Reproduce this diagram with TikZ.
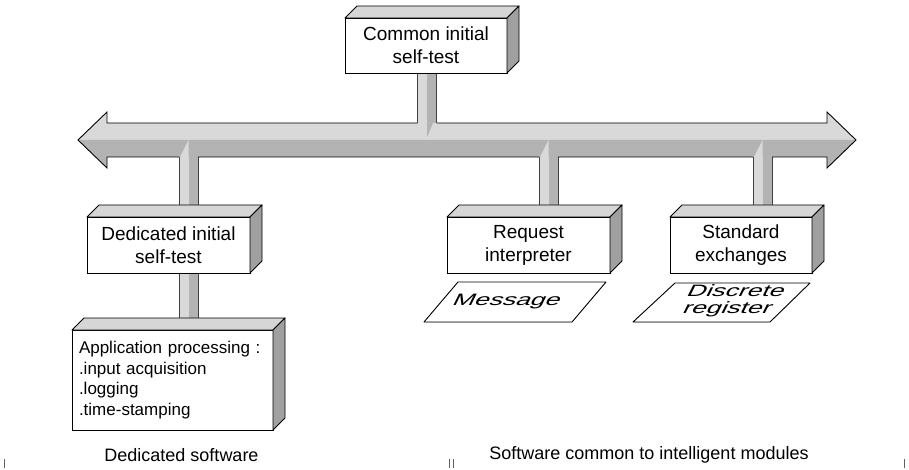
\documentclass[tikz,border=0pt]{standalone}
\usepackage{fontspec}
\setmainfont{Liberation Sans}
\newfontfamily\widefont[FakeStretch=1.6]{Liberation Sans}
\usetikzlibrary{calc,backgrounds}

\definecolor{facetop}{HTML}{D6D6D6}
\definecolor{faceside}{HTML}{A0A0A0}
\definecolor{buslight}{HTML}{D9D9D9}
\definecolor{busdark}{HTML}{B3B3B3}
\definecolor{shade}{HTML}{B5B5B5}
\definecolor{tickgray}{HTML}{606060}

\tikzset{
  box/.style={draw, fill=white, line width=0.9pt, inner sep=0pt, outer sep=0pt,
    align=center, minimum height=56pt, font=\fontsize{19}{23}\selectfont},
  face/.style={draw, line width=0.9pt, line join=round},
  outline/.style={draw, line width=0.9pt},
  stemedge/.style={draw=black!75, line width=0.7pt},
  card/.style={draw, fill=white, line width=0.9pt, line join=round},
  cardtext/.style={font=\widefont\fontsize{16.5}{17}\selectfont, xslant=0.5,
    transform shape, align=center, inner sep=0pt},
  caption/.style={font=\fontsize{18}{22}\selectfont, inner sep=0pt},
  tick/.style={draw=tickgray, line width=1pt},
}

% top and right faces of a box whose front face is node #1
\newcommand\boxfaces[1]{%
  \path[face, fill=facetop] (#1.north west) -- ++(12,-12)
    -- ($(#1.north east)+(12,-12)$) -- (#1.north east) -- cycle;
  \path[face, fill=faceside] (#1.north east) -- ($(#1.north east)+(12,-12)$)
    -- ($(#1.south east)+(12,-12)$) -- (#1.south east) -- cycle;
}
% vertical two-tone stem centred on #1, from the level of #2 to the level of #3
\newcommand\vstem[3]{%
  \fill[buslight] ($(#1 |- #2)+(-9.5,0)$) rectangle (#1 |- #3);
  \fill[busdark] (#1 |- #2) rectangle ($(#1 |- #3)+(9.5,0)$);
  \draw[stemedge] ($(#1 |- #2)+(-9.5,0)$) -- ($(#1 |- #3)+(-9.5,0)$)
                  ($(#1 |- #2)+(9.5,0)$) -- ($(#1 |- #3)+(9.5,0)$);
}

\begin{document}
\begin{tikzpicture}[x=1pt, y=-1pt]
\useasboundingbox (0,0) rectangle (909,470);

% boxes
\node[box, minimum width=162pt, minimum height=55pt] (com) at (426,45.5) {Common initial\\self-test};
\boxfaces{com}
\node[box, minimum width=163pt] (ded) at (168.5,245) {Dedicated initial\\self-test};
\boxfaces{ded}
\node[box, minimum width=163pt] (req) at (528.5,245) {Request\\interpreter};
\boxfaces{req}
\node[box, minimum width=142pt] (std) at (741,245) {Standard\\exchanges};
\boxfaces{std}
\node[box, font=\fontsize{17}{20.5}\selectfont, align=left, text width=187pt,
      inner xsep=7pt, minimum height=100pt] (app) at (172.5,380)
  {Application processing :\\.input acquisition\\.logging\\.time-stamping};
\boxfaces{app}

% stem centres and bus levels
\coordinate (comS) at ($(com.south)+(1,0)$);
\coordinate (dedS) at ($(ded.north)+(20,0)$);
\coordinate (reqS) at ($(req.north)+(20,0)$);
\coordinate (stdS) at ($(std.north)+(21.5,0)$);
\coordinate (busT) at (0,123);
\coordinate (busB) at (0,157);
\coordinate (busL) at (78,140);
\coordinate (busR) at (856,140);

\begin{pgfonlayer}{background}
  % stems
  \vstem{comS}{com.south}{busT}
  \vstem{dedS}{busB}{ded.north}
  \vstem{reqS}{busB}{req.north}
  \vstem{stdS}{busB}{std.north}
  \vstem{dedS}{ded.south}{app.north}
  % bus body with arrow heads at both ends
  \fill[buslight] (107,123) -- (107,112) -- (busL) -- (busR) -- (827,112) -- (827,123) -- cycle;
  \fill[busdark] (busL) -- (107,168) -- (107,157) -- (827,157) -- (827,168) -- (busR) -- cycle;
  % joints
  \fill[busdark] (comS |- busT) -- ($(comS |- busT)+(6,0)$) -- ($(comS |- busT)+(0,14)$) -- cycle;
  \foreach \s in {dedS,reqS,stdS}
    \fill[buslight] (\s |- busB) -- ($(\s |- busB)+(-8.5,0)$) -- ($(\s |- busB)+(0,-17)$) -- cycle;
  % bus outline, open where the stems join
  \draw[outline] ($(comS |- busT)+(-9.5,0)$) -- (107,123) -- (107,112) -- (busL)
      -- (107,168) -- (107,157) -- ($(dedS |- busB)+(-9.5,0)$)
    ($(dedS |- busB)+(9.5,0)$) -- ($(reqS |- busB)+(-9.5,0)$)
    ($(reqS |- busB)+(9.5,0)$) -- ($(stdS |- busB)+(-9.5,0)$)
    ($(stdS |- busB)+(9.5,0)$) -- (827,157) -- (827,168) -- (busR)
      -- (827,112) -- (827,123) -- ($(comS |- busT)+(9.5,0)$);
\end{pgfonlayer}

% data cards
\coordinate (msgC) at (515,302);
\fill[shade, shift={(4,5)}] ($(msgC)+(-91,20)$) -- ($(msgC)+(57,20)$) -- ($(msgC)+(91,-20)$) -- ($(msgC)+(-57,-20)$) -- cycle;
\path[card] ($(msgC)+(-91,20)$) -- ($(msgC)+(57,20)$) -- ($(msgC)+(91,-20)$) -- ($(msgC)+(-57,-20)$) -- cycle;
\begin{scope}[shift={(507,302)}]
  \node[cardtext] (msg) at (0,0) {Message};
\end{scope}

\coordinate (disC) at (721.5,302.5);
\fill[shade, shift={(4,5)}] ($(disC)+(-88.5,19.5)$) -- ($(disC)+(48.5,19.5)$) -- ($(disC)+(88.5,-19.5)$) -- ($(disC)+(-46.5,-19.5)$) -- cycle;
\path[card] ($(disC)+(-88.5,19.5)$) -- ($(disC)+(48.5,19.5)$) -- ($(disC)+(88.5,-19.5)$) -- ($(disC)+(-46.5,-19.5)$) -- cycle;
\begin{scope}[shift={(732,301)}]
  \node[cardtext] (dis) at (0,0) {Discrete\\register};
\end{scope}

% captions
\node[caption] (dsw) at (181.5,455) {Dedicated software};
\node[caption] (scm) at (649,455) {Software common to intelligent modules};

% column marks
\draw[tick] (4,459) -- (4,468);
\draw[tick] (449,459) -- (449,468);
\draw[tick] (453,459) -- (453,468);
\draw[tick] (904,459) -- (904,468);
\end{tikzpicture}
\end{document}
